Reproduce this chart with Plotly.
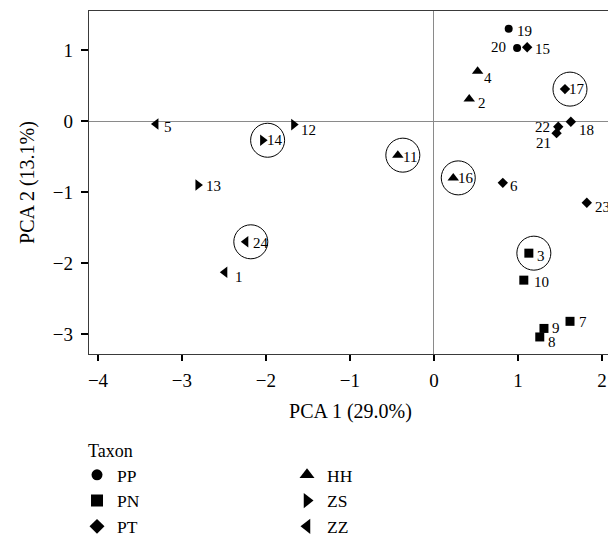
import plotly.graph_objects as go

# ---- data ----
sample_ids = list(range(1, 25))
taxon = ["ZZ", "HH", "PN", "HH", "ZZ", "PT", "PN", "PN", "PN", "PN", "HH", "ZS",
         "ZS", "ZS", "PT", "HH", "PT", "PT", "PP", "PP", "PT", "PT", "PT", "ZZ"]
pca1 = [-2.49, 0.42, 1.13, 0.52, -3.31, 0.82, 1.62, 1.26, 1.31, 1.07, -0.43, -1.67,
        -2.81, -2.04, 1.11, 0.23, 1.56, 1.63, 0.89, 0.99, 1.46, 1.48, 1.82, -2.24]
pca2 = [-2.13, 0.31, -1.86, 0.70, -0.04, -0.87, -2.82, -3.04, -2.92, -2.24, -0.48, -0.05,
        -0.90, -0.27, 1.04, -0.80, 0.45, -0.01, 1.30, 1.03, -0.17, -0.08, -1.15, -1.70]
circled_ids = [3, 11, 14, 16, 17, 24]
legend_order = ["PP", "HH", "PN", "ZS", "PT", "ZZ"]
x_ticks = [-4, -3, -2, -1, 0, 1, 2]
y_ticks = [-3, -2, -1, 0, 1]

# ---- styles ----
symbols = {"PP": "circle", "PN": "square", "PT": "diamond",
           "HH": "triangle-up", "ZS": "triangle-right", "ZZ": "triangle-left"}
sizes = {"PP": 8, "PN": 9, "PT": 8, "HH": 10, "ZS": 10, "ZZ": 10}
legend_sizes = {"PP": 11, "PN": 12, "PT": 11.5, "HH": 13, "ZS": 13, "ZZ": 13}
# label placement: (xanchor, xshift px, yshift px)
label_pos = {
    1: ("left", 8, -5), 2: ("left", 7, -4), 3: ("left", 6, -3), 4: ("left", 4, -7),
    5: ("left", 6, -3), 6: ("left", 5, -3), 7: ("left", 7, -1), 8: ("left", 6, -5),
    9: ("left", 6, 0), 10: ("left", 8, -2), 11: ("left", 3, -2), 12: ("left", 5, -5),
    13: ("left", 6, -1), 14: ("left", 2, 0), 15: ("left", 6, -2), 16: ("left", 3, 0),
    17: ("left", 2, 0), 18: ("left", 6, -8), 19: ("left", 6, -2), 20: ("right", -9, 1),
    21: ("right", -4, -10), 22: ("right", -6, 0), 23: ("left", 6, -4), 24: ("left", 5, -1),
}
FONT = "Liberation Serif"

fig = go.Figure()

for t in legend_order:
    xs = [pca1[i] for i in range(len(sample_ids)) if taxon[i] == t]
    ys = [pca2[i] for i in range(len(sample_ids)) if taxon[i] == t]
    fig.add_trace(go.Scatter(
        x=xs, y=ys, mode="markers", name=t, showlegend=False,
        marker=dict(symbol=symbols[t], size=sizes[t], color="black"),
    ))
# legend-only entries (bigger symbols, like the reference key)
for t in legend_order:
    fig.add_trace(go.Scatter(
        x=[None], y=[None], mode="markers", name=t, showlegend=True,
        marker=dict(symbol=symbols[t], size=legend_sizes[t], color="black"),
    ))

annotations = []
for i, sid in enumerate(sample_ids):
    xa, xs_, ys_ = label_pos[sid]
    annotations.append(dict(
        x=pca1[i], y=pca2[i], xref="x", yref="y", text=str(sid), showarrow=False,
        xanchor=xa, yanchor="middle", xshift=xs_, yshift=ys_,
        font=dict(family=FONT, size=15, color="black"),
    ))

shapes = []
for sid in circled_ids:
    i = sample_ids.index(sid)
    shapes.append(dict(
        type="circle", xref="x", yref="y", xsizemode="pixel", ysizemode="pixel",
        xanchor=pca1[i], yanchor=pca2[i], x0=-12, x1=22, y0=-17, y1=17,
        line=dict(color="black", width=1), fillcolor="rgba(0,0,0,0)", layer="above",
    ))

def minus(v):
    return str(v).replace("-", "\u2212")

fig.update_layout(
    width=608, height=535,
    margin=dict(l=81, r=4, t=3, b=189),
    paper_bgcolor="white", plot_bgcolor="white",
    font=dict(family=FONT, size=19, color="black"),
    annotations=annotations, shapes=shapes,
    xaxis=dict(range=[-4.107, 2.12], tickvals=x_ticks, ticktext=[minus(v) for v in x_ticks],
               showgrid=False, zeroline=True, zerolinecolor="#8a8a8a", zerolinewidth=1,
               showline=True, linecolor="#3a3a3a", linewidth=1.3, mirror=True,
               ticks="outside", ticklen=6, tickwidth=2, tickcolor="black",
               ticklabelstandoff=3, tickfont=dict(size=19),
               title=dict(text="PCA 1 (29.0%)", standoff=14, font=dict(size=20))),
    yaxis=dict(range=[-3.28, 1.55], tickvals=y_ticks, ticktext=[minus(v) for v in y_ticks],
               showgrid=False, zeroline=True, zerolinecolor="#8a8a8a", zerolinewidth=1,
               showline=True, linecolor="#3a3a3a", linewidth=1.3, mirror=True,
               ticks="outside", ticklen=7, tickwidth=2, tickcolor="black",
               ticklabelstandoff=4, tickfont=dict(size=19),
               title=dict(text="PCA 2 (13.1%)", standoff=12, font=dict(size=20))),
    legend=dict(x=0.1135, xref="container", y=0.2045, yref="container",
                xanchor="left", yanchor="top", orientation="h",
                entrywidth=165, entrywidthmode="pixels",
                title=dict(text="\u00a0\u00a0Taxon", side="top", font=dict(size=18)),
                font=dict(size=17.5), bgcolor="rgba(0,0,0,0)"),
)

fig.write_html("out.html")
